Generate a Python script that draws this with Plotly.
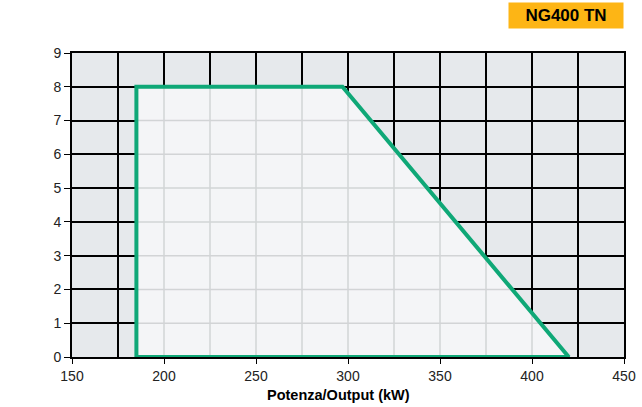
import plotly.graph_objects as go

# Data
poly_x = [185, 185, 297, 420, 185]
poly_y = [0, 8, 8, 0, 0]
x_range = [150, 450]
y_range = [0, 9]
x_grid = [175, 200, 225, 250, 275, 300, 325, 350, 375, 400, 425]
y_grid = [1, 2, 3, 4, 5, 6, 7, 8]
title_text = "NG400 TN"
x_title = "Potenza/Output (kW)"

x0, ytop, xk, xr = 185, 8, 297, 420

def boundary_y(x):
    if x <= xk:
        return ytop
    return ytop * (xr - x) / (xr - xk)

def boundary_x(y):
    return xk + (ytop - y) / ytop * (xr - xk)

fig = go.Figure()

# polygon fill
fig.add_trace(go.Scatter(x=poly_x, y=poly_y, fill="toself", fillcolor="#f4f5f7",
                         mode="lines", line=dict(color="rgba(0,0,0,0)", width=0),
                         hoverinfo="skip", showlegend=False))

# light grid inside polygon
gx, gy = [], []
for x in x_grid:
    if x0 < x < xr:
        gx += [x, x, None]
        gy += [0, boundary_y(x), None]
for y in y_grid:
    if 0 < y < ytop:
        gx += [x0, boundary_x(y), None]
        gy += [y, y, None]
fig.add_trace(go.Scatter(x=gx, y=gy, mode="lines", line=dict(color="#d2d4d6", width=1.5),
                         hoverinfo="skip", showlegend=False))

# outline
fig.add_trace(go.Scatter(x=poly_x, y=poly_y, mode="lines",
                         line=dict(color="#0fa877", width=4),
                         hoverinfo="skip", showlegend=False))

fig.update_layout(
    width=642, height=407,
    margin=dict(l=72, r=18, t=53, b=50),
    paper_bgcolor="white",
    plot_bgcolor="#e6e9ec",
    font=dict(family="Liberation Sans, Arial, sans-serif", size=14, color="#222"),
    xaxis=dict(range=x_range, dtick=50, tick0=150, showgrid=True, gridcolor="black", gridwidth=1.5,
               minor=dict(dtick=25, tick0=150, showgrid=True, gridcolor="black", gridwidth=1.5),
               ticks="outside", ticklen=5, tickcolor="black", automargin=False,
               showline=True, linecolor="black", linewidth=2, mirror=True, zeroline=False),
    yaxis=dict(range=y_range, dtick=1, showgrid=True, gridcolor="black", gridwidth=1.5,
               ticks="outside", ticklen=6, tickcolor="black", automargin=False,
               showline=True, linecolor="black", linewidth=2, mirror=True, zeroline=False),
    annotations=[
        dict(text="<b>" + title_text + "</b>", xref="paper", yref="paper",
             x=1.0, y=1.0, xanchor="right", yanchor="bottom", yshift=24,
             showarrow=False, bgcolor="#fdb515", width=112, height=23,
             font=dict(size=17, color="black", family="Liberation Sans, Arial, sans-serif")),
        dict(text="<b>" + x_title + "</b>", xref="paper", yref="paper",
             x=0.482, y=0, xanchor="center", yanchor="top", yshift=-28,
             showarrow=False,
             font=dict(size=14.5, color="black", family="Liberation Sans, Arial, sans-serif")),
    ],
)

fig.write_html("out.html", config={"displayModeBar": False},
               post_script="document.body.style.margin='0';document.body.style.overflow='hidden';")
